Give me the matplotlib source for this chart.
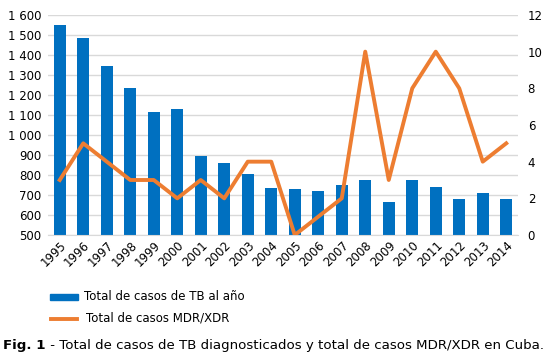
import matplotlib
matplotlib.use("Agg")
import matplotlib.pyplot as plt
from matplotlib.patches import Rectangle
from matplotlib.lines import Line2D
from matplotlib.transforms import ScaledTranslation

years = [str(y) for y in range(1995, 2015)]
tb_cases = [1550, 1483, 1345, 1235, 1115, 1130, 895, 858, 805, 733,
            728, 720, 750, 773, 663, 773, 742, 680, 708, 680]
mdr_cases = [3, 5, 4, 3, 3, 2, 3, 2, 4, 4, 0, 1, 2, 10, 3, 8, 10, 8, 4, 5]
left_ticks = list(range(500, 1700, 100))
left_labels = ["500", "600", "700", "800", "900", "1 000", "1 100", "1 200",
               "1 300", "1 400", "1 500", "1 600"]
right_ticks = [0, 2, 4, 6, 8, 10, 12]
legend_labels = ["Total de casos de TB al año", "Total de casos MDR/XDR"]
caption_bold = "Fig. 1"
caption_rest = " - Total de casos de TB diagnosticados y total de casos MDR/XDR en Cuba."

blue = "#0070C0"
orange = "#ED7D31"
fs = 8.5

fig = plt.figure(figsize=(5.5, 3.58), dpi=100)
ax = fig.add_axes([48/550, 1-235/358, 470/550, 220/358])
x = list(range(len(years)))
ax.bar(x, [v - 500 for v in tb_cases], bottom=500, width=0.5, color=blue, zorder=2)
ax.set_ylim(500, 1600)
ax.set_xlim(-0.5, len(years) - 0.5)
ax.set_yticks(left_ticks)
ax.set_yticklabels(left_labels, fontsize=fs)
ax.set_xticks(x)
ax.set_xticklabels(years, rotation=45, ha="right", rotation_mode="anchor", fontsize=fs)
off = ScaledTranslation(4/100, -2/100, fig.dpi_scale_trans)
for lbl in ax.get_xticklabels():
    lbl.set_transform(lbl.get_transform() + off)
ax.grid(axis="y", color="#D9D9D9", linewidth=1, zorder=0)
for s in ax.spines.values():
    s.set_visible(False)
ax.spines["bottom"].set_visible(True)
ax.spines["bottom"].set_color("#D9D9D9")
ax.tick_params(axis="both", length=0, pad=3)
ax.tick_params(axis="y", pad=5)

ax2 = ax.twinx()
ax2.plot(x, mdr_cases, color=orange, linewidth=2.8, zorder=3)
ax2.set_ylim(0, 12)
ax2.set_yticks(right_ticks)
ax2.set_yticklabels([str(t) for t in right_ticks], fontsize=fs)
for s in ax2.spines.values():
    s.set_visible(False)
ax2.tick_params(axis="y", length=0, pad=7)

# legend
fig.patches.append(Rectangle((50/550, 1-300/358), 28/550, 6/358, transform=fig.transFigure,
                             color=blue, figure=fig))
fig.text(84/550, 1-297/358, legend_labels[0], fontsize=fs, va="center", ha="left")
fig.lines.append(Line2D([51/550, 77/550], [1-319/358, 1-319/358], transform=fig.transFigure,
                        color=orange, linewidth=2.8, figure=fig))
fig.text(86/550, 1-318/358, legend_labels[1], fontsize=fs, va="center", ha="left")

# caption
t1 = fig.text(3/550, 1-345/358, caption_bold, fontsize=9.6, fontweight="bold", va="center", ha="left")
fig.canvas.draw()
bb = t1.get_window_extent()
fig.text(bb.x1/550, 1-345/358, caption_rest, fontsize=9.6, va="center", ha="left")

fig.savefig("out.png", dpi=100)
